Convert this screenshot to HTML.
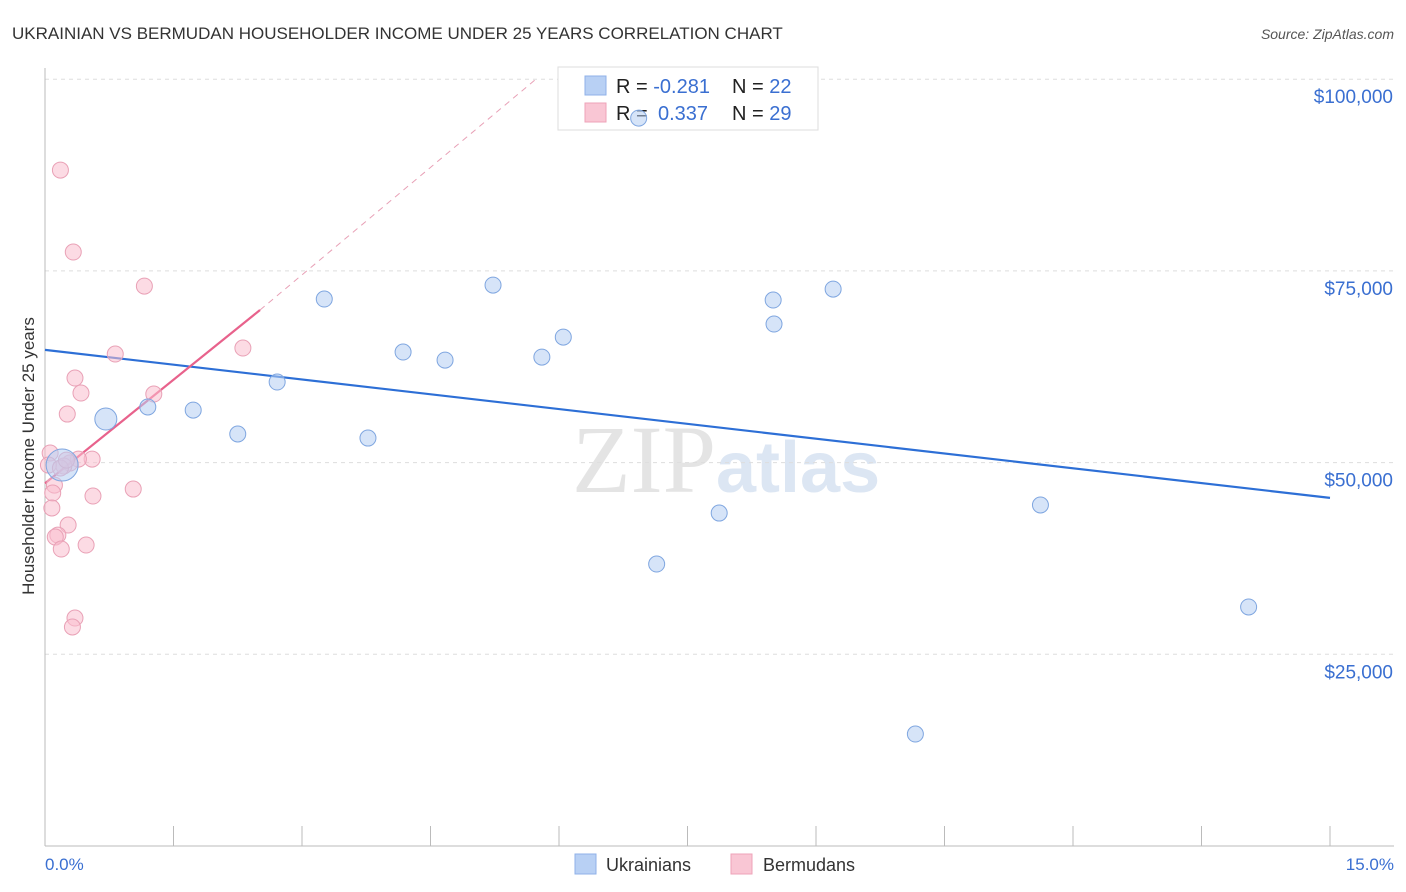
<!DOCTYPE html>
<html><head><meta charset="utf-8"><style>
body{margin:0;background:#fff;font-family:"Liberation Sans",sans-serif;}
svg{display:block}
</style></head><body>
<svg id="chart" width="1406" height="892">
<text x="12" y="39" font-size="17" fill="#333">UKRAINIAN VS BERMUDAN HOUSEHOLDER INCOME UNDER 25 YEARS CORRELATION CHART</text>
<text x="1394" y="39" font-size="14" fill="#555" font-style="italic" text-anchor="end">Source: ZipAtlas.com</text>
<text x="716" y="492" font-size="96" fill="#e4e4e4" font-family="Liberation Serif,serif" text-anchor="end">ZIP</text>
<text x="716" y="492" font-size="72" fill="#dce6f3" font-weight="bold">atlas</text>
<g id="grid"></g>
<g id="axes"></g>
<g>
<rect x="558" y="67" width="260" height="63" fill="#fff" stroke="#ddd"/>
<rect x="585" y="76" width="21" height="19" fill="#b8d0f4" stroke="#8fb1e8"/>
<rect x="585" y="103" width="21" height="19" fill="#f9c6d4" stroke="#eea3b8"/>
<text x="616" y="93" font-size="20" fill="#222">R = <tspan fill="#3a6fd1">-0.281</tspan></text>
<text x="732" y="93" font-size="20" fill="#222">N = <tspan fill="#3a6fd1">22</tspan></text>
<text x="616" y="120" font-size="20" fill="#222">R = <tspan fill="#3a6fd1" x="658">0.337</tspan></text>
<text x="732" y="120" font-size="20" fill="#222">N = <tspan fill="#3a6fd1">29</tspan></text>
</g>
<g id="lines"></g>
<g id="points"></g>
<text transform="translate(34,456) rotate(-90)" font-size="17" fill="#333" text-anchor="middle">Householder Income Under 25 years</text>
<text x="45" y="870" font-size="17" fill="#3a6fd1">0.0%</text>
<text x="1394" y="870" font-size="17" fill="#3a6fd1" text-anchor="end">15.0%</text>
<g>
<rect x="575" y="854" width="21" height="20" fill="#b8d0f4" stroke="#8fb1e8"/>
<text x="606" y="871" font-size="18" fill="#333">Ukrainians</text>
<rect x="731" y="854" width="21" height="20" fill="#f9c6d4" stroke="#eea3b8"/>
<text x="763" y="871" font-size="18" fill="#333">Bermudans</text>
</g>
</svg>
<script>
const yTicks=[25000,50000,75000,100000];
const yTickLabels=["$25,000","$50,000","$75,000","$100,000"];
const blueX=[0.71,1.20,1.73,2.25,2.71,3.26,3.77,4.18,4.67,5.23,5.80,6.05,6.93,7.14,7.87,8.50,8.51,9.20,10.16,11.62,14.05,0.20];
const blueY=[55680,57250,56850,53730,60510,71330,53200,64420,63370,73150,63760,66370,94930,36770,43420,71200,68070,72630,14600,44470,31170,49680];
const blueR=[11,8,8,8,8,8,8,8,8,8,8,8,8,8,8,8,8,8,8,8,8,16];
const pinkX=[0.18,0.33,1.16,0.82,2.31,0.35,0.42,1.27,0.26,0.06,0.55,0.39,0.29,0.22,0.11,0.09,0.56,1.03,0.08,0.27,0.15,0.12,0.48,0.19,0.35,0.32,0.04,0.18,0.25];
const pinkY=[88150,77460,73020,64160,64940,61030,59070,58940,56330,51250,50460,50460,49940,49550,47070,46030,45640,46550,44080,41860,40550,40290,39250,38730,29730,28560,49680,49290,50330];
const blueTrend=[[0,64700],[15,45400]];
const pinkTrend=[[0,47300],[2.51,69900]];
const pinkDash=[[2.51,69900],[5.72,99900]];
const NS="http://www.w3.org/2000/svg";
const xs=v=>45+v/15*1285;
const ys=v=>846-v/25000*191.7;
function mk(tag,attrs,parent){const e=document.createElementNS(NS,tag);for(const k in attrs)e.setAttribute(k,attrs[k]);document.getElementById(parent).appendChild(e);return e;}
yTicks.forEach((t,i)=>{
 const g=mk('line',{x1:45,x2:1394,y1:ys(t),y2:ys(t),stroke:'#ddd','stroke-dasharray':'4,4'},'grid');
 
 
 const l=mk('text',{x:1393,y:ys(t)+24,'font-size':19,fill:'#3a6fd1','text-anchor':'end'},'grid');
 l.textContent=yTickLabels[i];
 
 
});
const ax=mk('line',{x1:45,x2:45,y1:68,y2:846,stroke:'#bbb'},'axes');


const bx=mk('line',{x1:45,x2:1394,y1:846,y2:846,stroke:'#bbb'},'axes');


for(let i=1;i<=10;i++){const t=mk('line',{x1:xs(i*1.5),x2:xs(i*1.5),y1:826,y2:846,stroke:'#bbb'},'axes');
 
 }
function tl(p,st,extra,name){const e=mk('line',Object.assign({x1:xs(p[0][0]),y1:ys(p[0][1]),x2:xs(p[1][0]),y2:ys(p[1][1]),stroke:st},extra),'lines');
 
 }
tl(blueTrend,'#2d6fd6',{'stroke-width':2.2},'ukrainians-trendline');
tl(pinkTrend,'#e8628c',{'stroke-width':2.2},'bermudans-trendline');
tl(pinkDash,'#e8a0b6',{'stroke-width':1,'stroke-dasharray':'6,5'},'bermudans-trendline-extension');
pinkX.forEach((x,i)=>{const c=mk('circle',{cx:xs(x),cy:ys(pinkY[i]),r:8,fill:'rgba(249,190,206,0.55)',stroke:'#e9a1b6','stroke-width':1},'points');
 
 });
blueX.forEach((x,i)=>{const c=mk('circle',{cx:xs(x),cy:ys(blueY[i]),r:blueR[i],fill:'rgba(180,205,242,0.55)',stroke:'#7fa6e0','stroke-width':1},'points');
 
 });
</script>
</body></html>
